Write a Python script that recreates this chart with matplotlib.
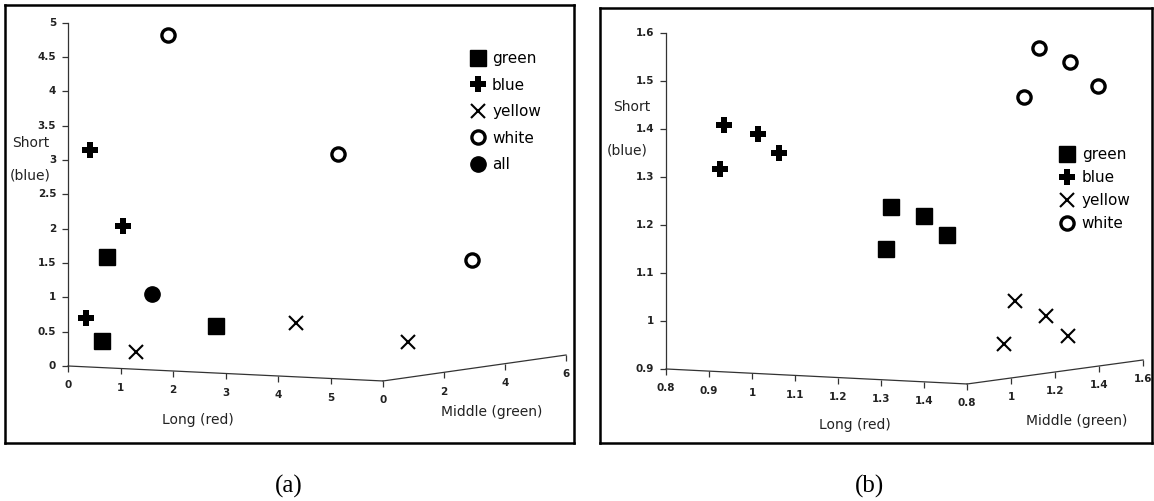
import matplotlib.pyplot as plt

# -----------------------------
# Panel (a) data (projected x, Short)
# -----------------------------
a_green_x = [0.74, 0.65, 2.82]
a_green_y = [1.59, 0.36, 0.58]
a_blue_x = [0.42, 1.05, 0.34]
a_blue_y = [3.14, 2.04, 0.70]
a_yellow_x = [1.30, 4.34, 6.48]
a_yellow_y = [0.20, 0.63, 0.35]
a_white_x = [1.90, 5.15, 7.70]
a_white_y = [4.82, 3.08, 1.54]
a_all_x = [1.60]
a_all_y = [1.05]

a_short_ticks = [0, 0.5, 1, 1.5, 2, 2.5, 3, 3.5, 4, 4.5, 5]
a_long_ticks = [0, 1, 2, 3, 4, 5]
a_long_end = 6
a_mid_ticks = [0, 2, 4, 6]

# -----------------------------
# Panel (b) data (projected x, Short)
# -----------------------------
b_green_x = [1.323, 1.400, 1.453, 1.312]
b_green_y = [1.238, 1.219, 1.179, 1.150]
b_blue_x = [0.935, 1.014, 1.063, 0.926]
b_blue_y = [1.408, 1.390, 1.350, 1.317]
b_yellow_x = [1.612, 1.684, 1.735, 1.586]
b_yellow_y = [1.042, 1.010, 0.969, 0.952]
b_white_x = [1.667, 1.740, 1.805, 1.633]
b_white_y = [1.569, 1.540, 1.490, 1.467]

b_short_ticks = [0.9, 1.0, 1.1, 1.2, 1.3, 1.4, 1.5, 1.6]
b_long_ticks = [0.8, 0.9, 1.0, 1.1, 1.2, 1.3, 1.4]
b_long_end = 1.5
b_mid_ticks = [0.8, 1.0, 1.2, 1.4, 1.6]

AX_COL = '#333333'
TICK_FONT = dict(fontsize=7.5, fontweight='bold', color='#222222')


def fmt(v):
    return '%g' % v


def draw_frame(ax, short_ticks, long_ticks, long_end, long_slope,
               mid_ticks, mid_dir):
    x0, y0 = long_ticks[0], short_ticks[0]
    # Short (vertical) axis
    ax.plot([x0, x0], [y0, short_ticks[-1]], color=AX_COL, lw=0.9)
    ax.plot([x0] * len(short_ticks), short_ticks, ls='none', marker=0,
            ms=4, mew=0.9, color=AX_COL)
    for t in short_ticks:
        ax.annotate(fmt(t), (x0, t), xytext=(-8.5, 0), textcoords='offset points',
                    ha='right', va='center', **TICK_FONT)

    # Long axis
    def long_pt(v):
        return v, y0 + long_slope * (v - x0)
    cx, cy = long_pt(long_end)
    ax.plot([x0, cx], [y0, cy], color=AX_COL, lw=0.9)
    for t in long_ticks:
        px, py = long_pt(t)
        ax.plot([px], [py], marker=3, ms=4.5, mew=0.9, color=AX_COL)
        ax.annotate(fmt(t), (px, py), xytext=(0, -14), textcoords='offset points',
                    ha='center', va='center', **TICK_FONT)

    # Middle axis, starts at the end of the long axis
    m0 = mid_ticks[0]

    def mid_pt(v):
        return cx + (v - m0) * mid_dir[0], cy + (v - m0) * mid_dir[1]
    ex, ey = mid_pt(mid_ticks[-1])
    ax.plot([cx, ex], [cy, ey], color=AX_COL, lw=0.9)
    for t in mid_ticks:
        px, py = mid_pt(t)
        ax.plot([px], [py], marker=3, ms=4.5, mew=0.9, color=AX_COL)
        ax.annotate(fmt(t), (px, py), xytext=(0, -14), textcoords='offset points',
                    ha='center', va='center', **TICK_FONT)


def draw_points(ax, green, blue, yellow, white, allp=None):
    ax.plot(*green, ls='none', marker='s', ms=11, color='black', label='green')
    ax.plot(*blue, ls='none', marker='P', ms=11.5, color='black', mew=0, label='blue')
    ax.plot(*yellow, ls='none', marker='x', ms=10.5, mew=1.5, color='black', label='yellow')
    ax.plot(*white, ls='none', marker='o', ms=9.5, mew=2.4, mfc='white',
            mec='black', label='white')
    if allp is not None:
        ax.plot(*allp, ls='none', marker='o', ms=11, color='black', label='all')


def style_box(ax):
    ax.set_xticks([])
    ax.set_yticks([])
    for s in ax.spines.values():
        s.set_linewidth(1.8)
        s.set_color('black')


fig = plt.figure(figsize=(11.54, 5.01), dpi=100)
W, H = 1154, 501

# -----------------------------
# Panel (a)
# -----------------------------
ax1 = fig.add_axes([5 / W, (H - 443) / H, 569 / W, 438 / H])
ax1.set_xlim(-1.2, 9.638)
ax1.set_ylim(-1.121, 5.255)
style_box(ax1)
draw_frame(ax1, a_short_ticks, a_long_ticks, a_long_end, -0.03634,
           a_mid_ticks, (0.581, 0.063))
draw_points(ax1, (a_green_x, a_green_y), (a_blue_x, a_blue_y),
            (a_yellow_x, a_yellow_y), (a_white_x, a_white_y), (a_all_x, a_all_y))
ax1.text(-1.067, 3.246, 'Short', ha='left', va='center', fontsize=10, color='#222222')
ax1.text(-1.105, 2.766, '(blue)', ha='left', va='center', fontsize=10, color='#222222')
ax1.text(2.476, -0.786, 'Long (red)', ha='center', va='center', fontsize=10, color='#222222')
ax1.text(8.076, -0.670, 'Middle (green)', ha='center', va='center', fontsize=10, color='#222222')
ax1.legend(loc='upper left', bbox_to_anchor=(0.805, 0.912), frameon=False,
           handlelength=0.9, handletextpad=0.5, labelspacing=0.75, borderpad=0,
           fontsize=11)

# -----------------------------
# Panel (b)
# -----------------------------
ax2 = fig.add_axes([600 / W, (H - 443) / H, 552 / W, 435 / H])
ax2.set_xlim(0.6465, 1.930)
ax2.set_ylim(0.7458, 1.652)
style_box(ax2)
draw_frame(ax2, b_short_ticks, b_long_ticks, b_long_end, -0.04464,
           b_mid_ticks, (0.5116, 0.0625))
draw_points(ax2, (b_green_x, b_green_y), (b_blue_x, b_blue_y),
            (b_yellow_x, b_yellow_y), (b_white_x, b_white_y))
ax2.text(0.721, 1.446, 'Short', ha='center', va='center', fontsize=10, color='#222222')
ax2.text(0.709, 1.356, '(blue)', ha='center', va='center', fontsize=10, color='#222222')
ax2.text(1.240, 0.783, 'Long (red)', ha='center', va='center', fontsize=10, color='#222222')
ax2.text(1.756, 0.792, 'Middle (green)', ha='center', va='center', fontsize=10, color='#222222')
ax2.legend(loc='upper left', bbox_to_anchor=(0.82, 0.697), frameon=False,
           handlelength=0.9, handletextpad=0.5, labelspacing=0.52, borderpad=0,
           fontsize=11)

fig.text(289 / W, 1 - 486 / H, '(a)', ha='center', va='center', fontsize=18,
         family='Liberation Serif')
fig.text(870 / W, 1 - 486 / H, '(b)', ha='center', va='center', fontsize=18,
         family='Liberation Serif')

fig.savefig('out.png', dpi=100)
